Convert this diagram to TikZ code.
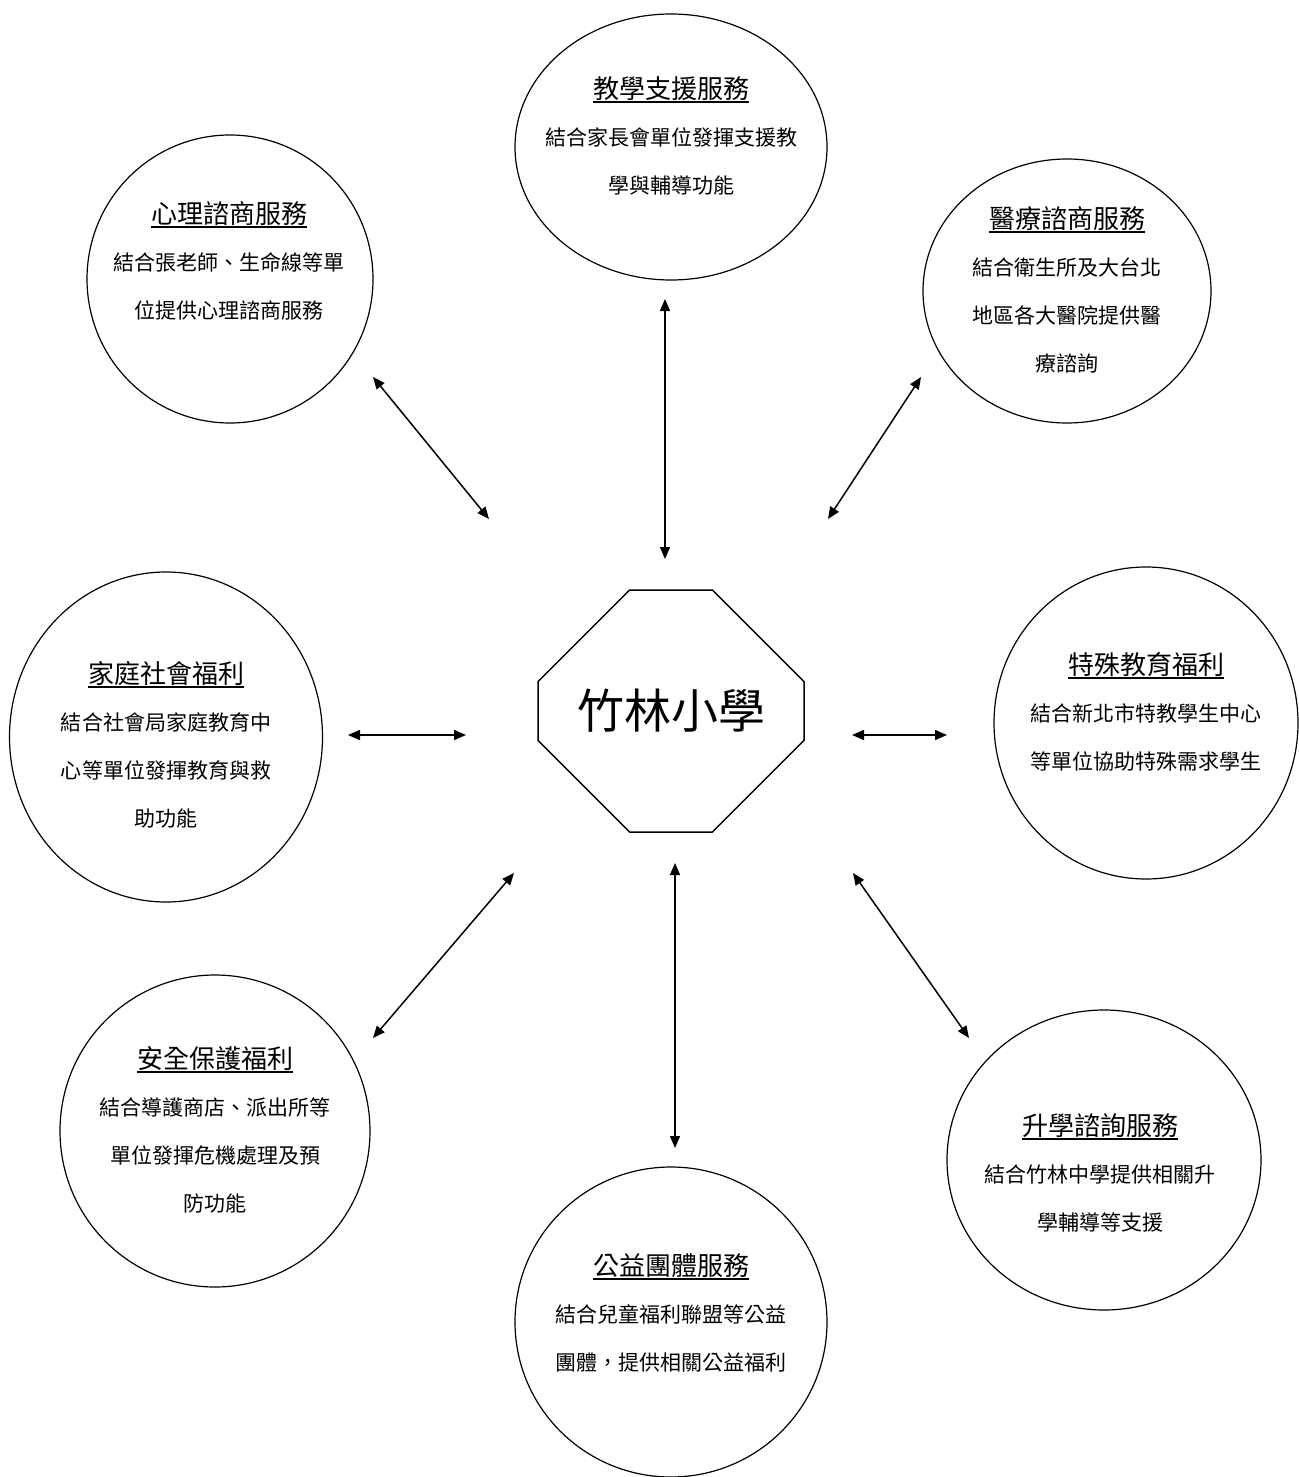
\documentclass[tikz,border=0pt]{standalone}
\usepackage{fontspec}
\setmainfont{Noto Sans CJK TC}
\usepackage{tikz}
\usetikzlibrary{shapes,arrows.meta,positioning}

\newlength\titlewd
\newcommand\svctitle[1]{\settowidth\titlewd{#1}\rlap{\rule[-2.5pt]{\titlewd}{1pt}}#1}

\begin{document}
\begin{tikzpicture}
[x=0.5pt,y=-0.5pt,>={Triangle[length=6pt,width=5pt]}]
\tikzset{
	service/.style = {ellipse, draw, line width = 0.6pt, inner sep = 0},
	title/.style = {anchor = base, inner sep = 0, font = \fontsize{13}{16}\selectfont},
	body/.style = {below = 12pt of #1, inner sep = 0, align = center, font = \fontsize{10.5}{24}\selectfont},
	link/.style = {<->, line width = 0.75pt}
}

\useasboundingbox (0,0) rectangle (1299,1477);

\node (hub) [chamfered rectangle, chamfered rectangle sep = 35pt, draw, line width = 0.75pt,
	minimum width = 133pt, minimum height = 121pt, inner sep = 0,
	font = \fontsize{23.5}{28}\selectfont] at (671,711) {竹林小學};

\node (teach) [service, minimum width = 156pt, minimum height = 133pt] at (671,147) {};
\node (teacht) [title] at (671,98) {\svctitle{教學支援服務}};
\node (teachb) [body = teacht] {結合家長會單位發揮支援教\\學與輔導功能};

\node (heart) [service, minimum width = 143pt, minimum height = 144pt] at (230,279) {};
\node (heartt) [title] at (229,223) {\svctitle{心理諮商服務}};
\node (heartb) [body = heartt] {結合張老師、生命線等單\\位提供心理諮商服務};

\node (medic) [service, minimum width = 144pt, minimum height = 132pt] at (1067,291) {};
\node (medict) [title] at (1067,228) {\svctitle{醫療諮商服務}};
\node (medicb) [body = medict] {結合衛生所及大台北\\地區各大醫院提供醫\\療諮詢};

\node (family) [service, minimum width = 156.5pt, minimum height = 165pt] at (166,737) {};
\node (familyt) [title] at (166,683) {\svctitle{家庭社會福利}};
\node (familyb) [body = familyt] {結合社會局家庭教育中\\心等單位發揮教育與救\\助功能};

\node (special) [service, minimum width = 152pt, minimum height = 156pt] at (1146,723) {};
\node (specialt) [title] at (1146,674) {\svctitle{特殊教育福利}};
\node (specialb) [body = specialt] {結合新北市特教學生中心\\等單位協助特殊需求學生};

\node (safety) [service, minimum width = 155pt, minimum height = 156pt] at (215,1131) {};
\node (safetyt) [title] at (215,1068) {\svctitle{安全保護福利}};
\node (safetyb) [body = safetyt] {結合導護商店、派出所等\\單位發揮危機處理及預\\防功能};

\node (charity) [service, minimum width = 156pt, minimum height = 155pt] at (671,1322) {};
\node (charityt) [title] at (671,1275) {\svctitle{公益團體服務}};
\node (charityb) [body = charityt] {結合兒童福利聯盟等公益\\團體，提供相關公益福利};

\node (advance) [service, minimum width = 157pt, minimum height = 150pt] at (1104,1160) {};
\node (advancet) [title] at (1100,1135) {\svctitle{升學諮詢服務}};
\node (advanceb) [body = advancet] {結合竹林中學提供相關升\\學輔導等支援};

\coordinate (heartend) at (373,377);
\coordinate (hubnw) at (489,519);
\coordinate (teachend) at (665,299);
\coordinate (hubn) at (665,559);
\coordinate (medicend) at (921,377);
\coordinate (hubne) at (828,519);
\coordinate (familyend) at (348,735);
\coordinate (hubw) at (466,735);
\coordinate (hube) at (852,735);
\coordinate (specialend) at (947,735);
\coordinate (hubsw) at (514,873);
\coordinate (safetyend) at (373,1038);
\coordinate (hubs) at (675,863);
\coordinate (charityend) at (675,1148);
\coordinate (hubse) at (853,873);
\coordinate (advanceend) at (969,1038);

\draw [link] (heartend) -- (hubnw);
\draw [link] (teachend) -- (hubn);
\draw [link] (medicend) -- (hubne);
\draw [link] (familyend) -- (hubw);
\draw [link] (hube) -- (specialend);
\draw [link] (hubsw) -- (safetyend);
\draw [link] (hubs) -- (charityend);
\draw [link] (hubse) -- (advanceend);

\end{tikzpicture}
\end{document}
